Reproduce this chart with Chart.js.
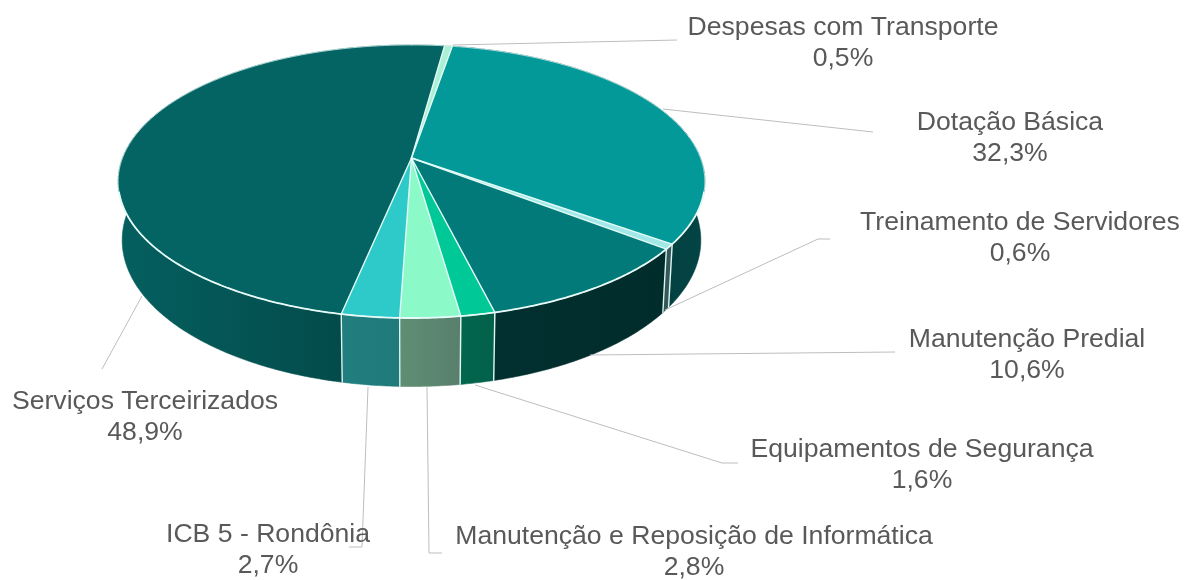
<!DOCTYPE html>
<html><head><meta charset="utf-8">
<style>html,body{margin:0;padding:0;background:#fff}canvas{display:block}</style>
<script src="https://cdn.jsdelivr.net/npm/chart.js@4"></script>
</head><body><canvas id="c" width="1184" height="580"></canvas>
<script>
const categories = ["Despesas com Transporte","Dotação Básica","Treinamento de Servidores","Manutenção Predial","Equipamentos de Segurança","Manutenção e Reposição de Informática","ICB 5 - Rondônia","Serviços Terceirizados"];
const shares = [0.5,32.3,0.6,10.6,1.6,2.8,2.7,48.9];
const topColors = ["#a9f0d4","#039999","#a3e8e8","#037a7a","#00c896","#8cf9c8","#2ecaca","#046363"];
const sideLeft = ["#6fa08c","#022f30","#35595a","#022f2f","#02664e","#5e8e74","#227f7f","#055f5f"];
const sideRight = ["#6fa08c","#034444","#35595a","#012c2c","#02604a","#587f6c","#1f7a7a","#034242"];
const labelCentres = [[843,28],[1010,123],[1020,223],[1027,340],[922,450],[694,537],[268,535],[145,402]];
const leaders = [
 [[453,45],[677,40]],
 [[663,109],[873,132]],
 [[665,310],[818,239],[830,239]],
 [[590,355],[895,352]],
 [[475,385],[722,463],[738,463]],
 [[427,387],[429,553],[442,553]],
 [[368,387],[362,547],[349,547]],
 [[142,296],[102,369]]
];
// Projection of the pie disc onto the page (perspective)
const TOP = {x0:411.5,y0:158,a:289,b:132.5,p:0.172};
const BOT = {x0:411.5,y0:215,a:285,b:142,p:0.172};
function proj(g,th,r){ // th measured clockwise from the top of the disc
  const x=Math.sin(th)*r, y=-Math.cos(th)*r, w=1-g.p*y;
  return [g.x0+g.a*x/w, g.y0+g.b*y/w];
}
function arcPts(g,t0,t1){
  const n=Math.max(2,Math.ceil((t1-t0)/0.01)),pts=[];
  for(let i=0;i<=n;i++)pts.push(proj(g,t0+(t1-t0)*i/n,1));
  return pts;
}
function pathOf(ctx,pts){ctx.beginPath();pts.forEach((p,i)=>i?ctx.lineTo(p[0],p[1]):ctx.moveTo(p[0],p[1]));}
const pie3d = {
  id:'pie3d',
  beforeDatasetDraw(chart,args){
    const ctx=chart.ctx, arcs=args.meta.data;
    const range=arcs.map(a=>[a.startAngle+Math.PI/2,a.endAngle+Math.PI/2]);
    ctx.save();
    ctx.lineJoin='round';ctx.lineCap='round';
    // side walls
    range.forEach((r,i)=>{
      const up=arcPts(TOP,r[0],r[1]), dn=arcPts(BOT,r[0],r[1]);
      const xs=dn.concat(up).map(p=>p[0]);
      const mn=Math.min(...xs), mx=Math.max(...xs);
      const g=ctx.createLinearGradient(mn,0,mx,0);
      g.addColorStop(0,sideLeft[i]);g.addColorStop(1,sideRight[i]);
      pathOf(ctx,up.concat(dn.slice().reverse()));ctx.closePath();
      ctx.fillStyle=g;ctx.fill();
      ctx.strokeStyle=g;ctx.lineWidth=0.6;ctx.stroke();
    });
    // wall dividers on the visible front
    ctx.strokeStyle='#dff7f2';ctx.lineWidth=1.4;
    range.forEach(r=>{
      const t=r[0]%(2*Math.PI);
      if(t>Math.PI*0.5&&t<Math.PI*1.5){
        const u=proj(TOP,t,1),d=proj(BOT,t,1);
        ctx.beginPath();ctx.moveTo(u[0],u[1]);ctx.lineTo(d[0],d[1]);ctx.stroke();
      }
    });
    // top faces
    const apex=[TOP.x0,TOP.y0];
    range.forEach((r,i)=>{
      pathOf(ctx,[apex].concat(arcPts(TOP,r[0],r[1])));ctx.closePath();
      ctx.fillStyle=topColors[i];ctx.fill();
    });
    ctx.strokeStyle='#e2fbf6';ctx.lineWidth=1.4;
    range.forEach(r=>{
      const e=proj(TOP,r[0],1);
      ctx.beginPath();ctx.moveTo(apex[0],apex[1]);ctx.lineTo(e[0],e[1]);ctx.stroke();
    });
    // rim
    ctx.strokeStyle='#d5f6f2';ctx.lineWidth=0.8;
    pathOf(ctx,arcPts(TOP,0,Math.PI*2));ctx.stroke();
    ctx.strokeStyle='#e6fbf7';ctx.lineWidth=1.8;
    pathOf(ctx,arcPts(TOP,Math.PI*0.58,Math.PI*1.42));ctx.stroke();
    ctx.restore();
    return false;
  },
  afterDatasetsDraw(chart){
    const ctx=chart.ctx;
    ctx.save();
    ctx.strokeStyle='#bdbdbd';ctx.lineWidth=1;
    leaders.forEach(l=>{pathOf(ctx,l);ctx.stroke();});
    ctx.fillStyle='#595959';
    ctx.font='26.6px "Liberation Sans", Arial, sans-serif';
    ctx.textAlign='center';ctx.textBaseline='middle';
    categories.forEach((c,i)=>{
      const [x,y]=labelCentres[i];
      ctx.fillText(c,x,y);
      ctx.fillText(shares[i].toFixed(1).replace('.',',')+'%',x,y+30.5);
    });
    ctx.restore();
  }
};
new Chart(document.getElementById('c'),{
  type:'pie',
  data:{labels:categories,datasets:[{data:shares,backgroundColor:topColors,borderWidth:0}]},
  options:{responsive:false,animation:false,rotation:7.7,
    plugins:{legend:{display:false},tooltip:{enabled:false}}},
  plugins:[pie3d]
});
</script></body></html>
